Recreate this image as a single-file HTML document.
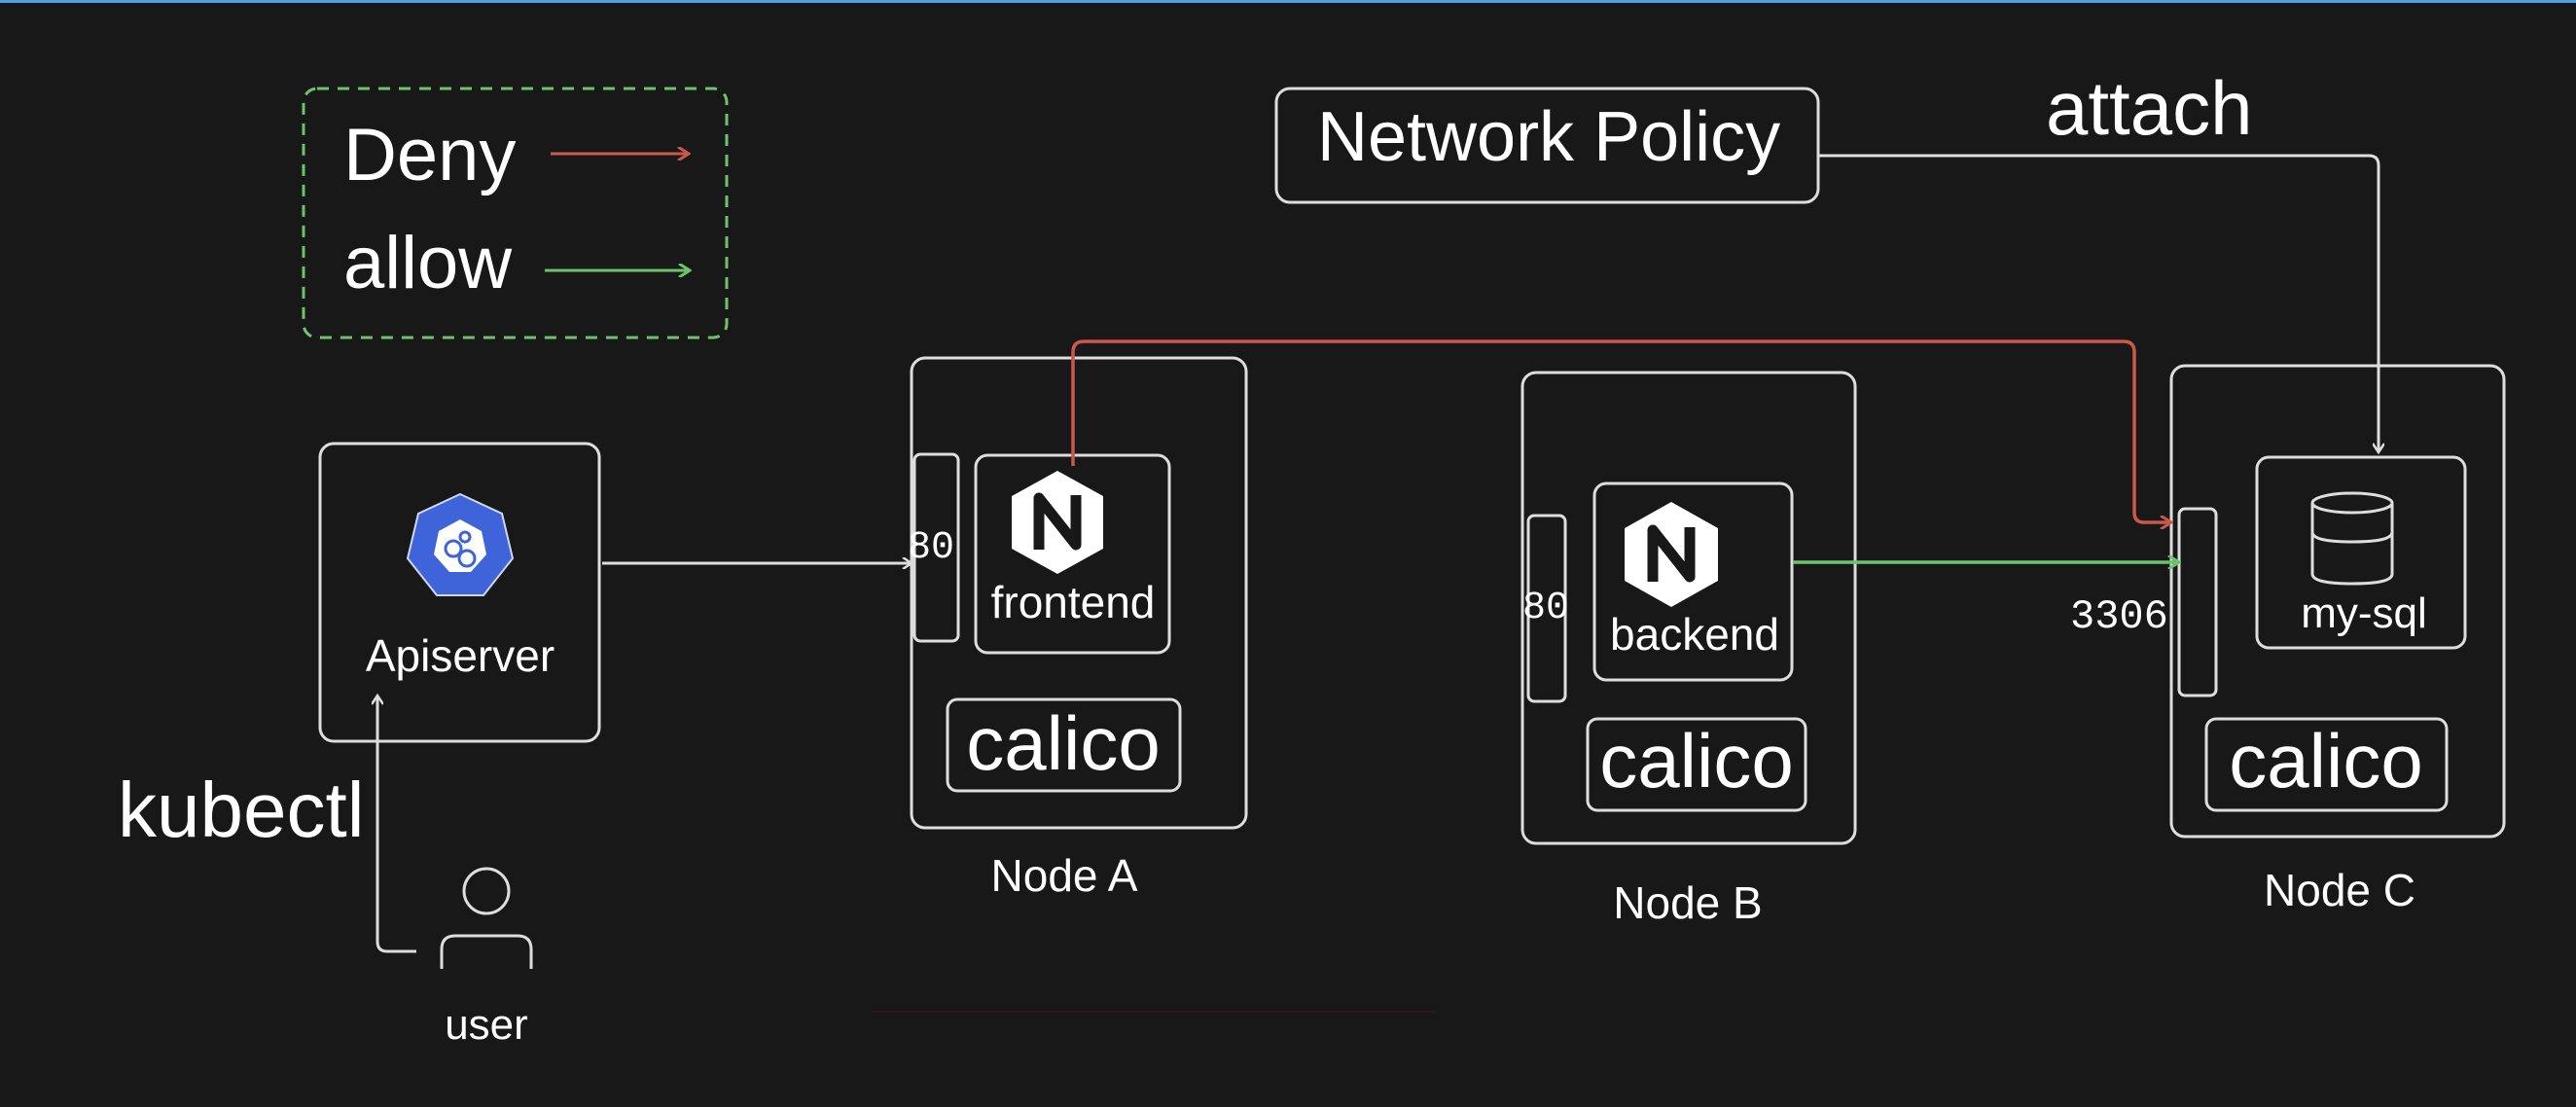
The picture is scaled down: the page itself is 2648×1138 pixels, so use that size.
<!DOCTYPE html>
<html><head><meta charset="utf-8"><style>
html,body{margin:0;padding:0;background:#181818;}
svg{display:block;}
text{font-family:"Liberation Sans",sans-serif;fill:#fff;}
.m{font-family:"Liberation Mono",monospace;}
</style></head><body>
<svg width="2648" height="1138" viewBox="0 0 2648 1138" xmlns="http://www.w3.org/2000/svg">
<defs>
<marker id="aw" markerWidth="12" markerHeight="12" refX="10" refY="6" orient="auto" markerUnits="userSpaceOnUse"><path d="M1,0 L10,6 L1,12" fill="none" stroke="#ddd" stroke-width="2.5"/></marker>
<marker id="ar" markerWidth="14" markerHeight="14" refX="12" refY="7" orient="auto" markerUnits="userSpaceOnUse"><path d="M1,0 L12,7 L1,14" fill="none" stroke="#c9594a" stroke-width="3"/></marker>
<marker id="ag" markerWidth="14" markerHeight="14" refX="12" refY="7" orient="auto" markerUnits="userSpaceOnUse"><path d="M1,0 L12,7 L1,14" fill="none" stroke="#6cc46a" stroke-width="3"/></marker>
</defs>
<rect width="2648" height="1138" fill="#181818"/>
<rect x="0" y="0" width="2648" height="3" fill="#4aa3df"/>
<line x1="895" y1="1040" x2="1476" y2="1040" stroke="#2a1a1a" stroke-width="2"/>

<!-- legend -->
<rect x="312" y="91" width="435" height="256" rx="14" fill="none" stroke="#6cc46a" stroke-width="3" stroke-dasharray="12 9"/>
<text x="353" y="185" font-size="76">Deny</text>
<text x="353" y="296" font-size="76">allow</text>
<line x1="566" y1="158" x2="708" y2="158" stroke="#c9594a" stroke-width="3" marker-end="url(#ar)"/>
<line x1="560" y1="278" x2="709" y2="278" stroke="#6cc46a" stroke-width="3" marker-end="url(#ag)"/>

<!-- network policy -->
<rect x="1312" y="91" width="557" height="117" rx="14" fill="none" stroke="#ddd" stroke-width="3"/>
<text x="1354" y="165" font-size="72">Network Policy</text>
<text x="2103" y="138" font-size="78">attach</text>
<path d="M1869,160 H2435 Q2445,160 2445,170 V465" fill="none" stroke="#ddd" stroke-width="3" marker-end="url(#aw)"/>

<!-- apiserver -->
<rect x="329" y="456" width="287" height="306" rx="14" fill="none" stroke="#ddd" stroke-width="3"/>
<polygon points="473,508 516,528 527,574 497,612 449,612 419,574 430,528" fill="#3f63d8" stroke="#cfd6ef" stroke-width="2"/>
<polygon points="473,534 495,546 500,570 484,588 462,588 446,570 451,546" fill="#fff"/>
<circle cx="466" cy="564" r="8" fill="none" stroke="#3f63d8" stroke-width="3"/>
<circle cx="480" cy="574" r="8" fill="none" stroke="#3f63d8" stroke-width="3"/>
<circle cx="478" cy="552" r="5" fill="none" stroke="#3f63d8" stroke-width="3"/>
<text x="473" y="690" font-size="46" text-anchor="middle">Apiserver</text>
<line x1="619" y1="579" x2="937" y2="579" stroke="#ddd" stroke-width="3" marker-end="url(#aw)"/>

<!-- user -->
<text x="121" y="860" font-size="80">kubectl</text>
<path d="M428,978 H398 Q388,978 388,968 V715" fill="none" stroke="#ddd" stroke-width="3" marker-end="url(#aw)"/>
<circle cx="500" cy="916" r="23" fill="none" stroke="#ddd" stroke-width="3"/>
<path d="M454,996 V976 Q454,962 468,962 H532 Q546,962 546,976 V996" fill="none" stroke="#ddd" stroke-width="3"/>
<text x="500" y="1068" font-size="44" text-anchor="middle">user</text>

<!-- Node A -->
<rect x="937" y="368" width="344" height="483" rx="14" fill="none" stroke="#ddd" stroke-width="3"/>
<rect x="940" y="467" width="45" height="192" rx="6" fill="none" stroke="#ddd" stroke-width="3"/>
<text x="933" y="573" font-size="40" class="m">80</text>
<rect x="1003" y="468" width="199" height="203" rx="12" fill="none" stroke="#ddd" stroke-width="3"/>
<polygon points="1087,484 1134,510 1134,564 1087,590 1040,564 1040,510" fill="#fff"/>
<path d="M1068,565 V512 L1106,560 V509" fill="none" stroke="#181818" stroke-width="11" stroke-linejoin="round"/>
<text x="1103" y="635" font-size="46" text-anchor="middle">frontend</text>
<rect x="974" y="719" width="239" height="94" rx="10" fill="none" stroke="#ddd" stroke-width="3"/>
<text x="1093" y="791" font-size="78" text-anchor="middle">calico</text>
<text x="1094" y="916" font-size="46" text-anchor="middle">Node A</text>

<!-- Node B -->
<rect x="1565" y="383" width="342" height="484" rx="14" fill="none" stroke="#ddd" stroke-width="3"/>
<rect x="1571" y="530" width="38" height="191" rx="6" fill="none" stroke="#ddd" stroke-width="3"/>
<text x="1565" y="635" font-size="40" class="m">80</text>
<rect x="1639" y="497" width="203" height="202" rx="12" fill="none" stroke="#ddd" stroke-width="3"/>
<polygon points="1718,516 1766,543 1766,597 1718,624 1670,597 1670,543" fill="#fff"/>
<path d="M1699,598 V545 L1737,593 V542" fill="none" stroke="#181818" stroke-width="11" stroke-linejoin="round"/>
<text x="1742" y="668" font-size="46" text-anchor="middle">backend</text>
<rect x="1632" y="739" width="224" height="94" rx="10" fill="none" stroke="#ddd" stroke-width="3"/>
<text x="1744" y="809" font-size="78" text-anchor="middle">calico</text>
<text x="1735" y="944" font-size="46" text-anchor="middle">Node B</text>

<!-- Node C -->
<rect x="2232" y="376" width="342" height="484" rx="14" fill="none" stroke="#ddd" stroke-width="3"/>
<rect x="2240" y="523" width="38" height="192" rx="6" fill="none" stroke="#ddd" stroke-width="3"/>
<text x="2128" y="645" font-size="42" class="m">3306</text>
<rect x="2320" y="470" width="214" height="196" rx="12" fill="none" stroke="#ddd" stroke-width="3"/>
<g fill="none" stroke="#ddd" stroke-width="3">
<ellipse cx="2418" cy="517" rx="41" ry="10"/>
<path d="M2377,517 V590 Q2377,600 2418,600 Q2459,600 2459,590 V517"/>
<path d="M2377,547 Q2377,557 2418,557 Q2459,557 2459,547"/>
</g>
<text x="2430" y="645" font-size="44" text-anchor="middle">my-sql</text>
<rect x="2268" y="739" width="247" height="94" rx="10" fill="none" stroke="#ddd" stroke-width="3"/>
<text x="2391" y="809" font-size="78" text-anchor="middle">calico</text>
<text x="2405" y="931" font-size="46" text-anchor="middle">Node C</text>

<!-- connectors -->
<path d="M1103,479 V362 Q1103,351 1114,351 H2183 Q2194,351 2194,362 V527 Q2194,537 2204,537 H2232" fill="none" stroke="#c9594a" stroke-width="3.5" marker-end="url(#ar)"/>
<line x1="1843" y1="578" x2="2240" y2="578" stroke="#6cc46a" stroke-width="3.5" marker-end="url(#ag)"/>
</svg>
</body></html>
